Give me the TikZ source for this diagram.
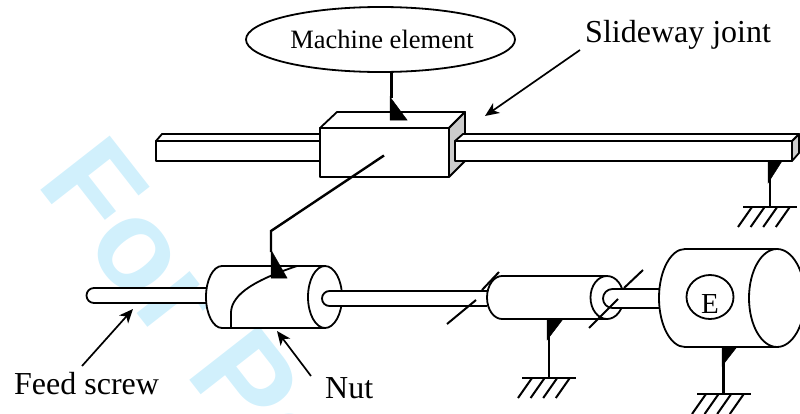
\documentclass[tikz,border=0pt]{standalone}
\usepackage{fontspec}
\setmainfont{Liberation Serif}
\newfontfamily\wmfont{Liberation Sans}
\usetikzlibrary{arrows.meta,shapes.geometric}
\tikzset{
  part/.style={draw=black,line width=1.8pt,fill=white,line join=round},
  plain/.style={draw=black,line width=1.8pt},
  thick link/.style={draw=black,line width=2.4pt},
  wedge/.style={fill=black,draw=black,line width=0.5pt},
  leader/.style={draw=black,line width=1.7pt,-{Stealth[length=14pt,width=12pt,inset=4pt]}},
  ground/.style={draw=black,line width=2.4pt},
  hatch/.style={draw=black,line width=2pt},
  label/.style={inner sep=0pt,anchor=base west,font=\fontsize{32}{32}\selectfont},
}
\newcommand{\groundsym}[3]{% x of left end, y, x of first hatch top
  \draw[ground] (#1,#2) -- ++(54,0);
  \foreach \dx in {0,12.6,25.2,37.8}{\draw[hatch] ({#3+\dx},#2) -- ++(-14,20);}
}
\begin{document}
\begin{tikzpicture}[x=1pt,y=-1pt]
\useasboundingbox (0,0) rectangle (800,413);
\begin{scope}
\clip (0,0) rectangle (800,413);
% watermark
\node[rotate=-52,anchor=base west,inner sep=0pt,text=cyan!18!white,font=\wmfont\bfseries\fontsize{128}{128}\selectfont] (wm) at (35.5,183) {For Pe};

% machine element
\node[ellipse,draw,line width=1.8pt,fill=white,minimum width=269pt,minimum height=65pt,inner sep=0pt] (me) at (380.5,39.5) {};
\node[inner sep=0pt,anchor=base,font=\fontsize{26.5}{26.5}\selectfont] (metext) at (382,48) {Machine element};

% left rail
\draw[part] (156,141) -- (162,134) -- (325,134) -- (325,141) -- cycle;
\draw[part] (156,141) rectangle (322,161);

% right rail end face
\draw[part,fill=black!20] (792,141) -- (799,134) -- (799,153) -- (792,161) -- cycle;

% block
\draw[part] (320,128) -- (337,112) -- (465,112) -- (449,128) -- cycle;
\draw[part,fill=black!20] (449,128) -- (465,112) -- (465,161) -- (449,177) -- cycle;
\draw[part] (320,128) rectangle (449,177);

% right rail
\draw[part] (455,141) -- (463,134) -- (799,134) -- (792,141) -- cycle;
\draw[part] (455,141) rectangle (792,161);

% machine element support
\coordinate (a1) at (391.5,72);
\coordinate (a2) at (391.5,98);
\draw[line width=2.4pt] (a1) -- (a2);
\fill[wedge] (390,97) -- (407,120) -- (390,120) -- cycle;

% rail support
\fill[wedge] (768,161) -- (782,161) -- (768,183) -- cycle;
\draw[line width=2.4pt] (770,161) -- (770,207);
\groundsym{743}{207}{752}

% feed screw, left part
\draw[part] (206,288) -- (94,288) arc[start angle=270,end angle=90,radius=7.5] -- (206,303);

% nut
\coordinate (nutR) at (325,297);
\draw[part] (325,266) -- (222,266) arc[start angle=270,end angle=90,x radius=16,y radius=31] -- (325,328);
\draw[part] (325,297) ellipse[x radius=17,y radius=31];
\draw[plain] (231,328) -- (231,312) .. controls (232,293) and (258,279) .. (297,266);

% screw right part
\path[fill=white] (329,291) rectangle (490,306);
\draw[plain] (487,291) -- (329.5,291) arc[start angle=270,end angle=90,radius=7.5] -- (487,306);

% link block to nut
\coordinate (b1) at (384,155.5);
\coordinate (b2) at (271,231);
\coordinate (b3) at (271,252);
\draw[thick link,line join=miter] (b1) -- (b2) -- (b3);
\fill[wedge] (271,250) -- (287,278) -- (271,278) -- cycle;

% bearing
\draw[part] (607,276) -- (502,276) arc[start angle=270,end angle=90,x radius=15,y radius=21.5] -- (607,319);
\draw[part] (607,297.5) ellipse[x radius=16.5,y radius=21.5];

% slashes around bearing
\draw[hatch] (447,324) -- (476,300);
\draw[hatch] (482,290) -- (499,272);

% motor
\draw[part] (777,249) -- (685,249) arc[start angle=270,end angle=90,x radius=26,y radius=49] -- (777,347);
\draw[part] (777,298) ellipse[x radius=28,y radius=49];
\node[ellipse,draw,line width=1.8pt,fill=white,minimum width=47pt,minimum height=44pt,inner sep=0pt] (ec) at (710,297) {};
\node[inner sep=0pt,anchor=base,font=\fontsize{29}{29}\selectfont] (etext) at (710,313) {E};

% motor shaft
\path[fill=white] (610,289) rectangle (658,308);
\draw[plain] (659,289) -- (612.5,289) arc[start angle=270,end angle=90,radius=9.5] -- (659,308);
\draw[hatch] (589,328) -- (618,299);
\draw[hatch] (624,288) -- (643,270);

% bearing support
\fill[wedge] (547,319) -- (563,319) -- (547,340) -- cycle;
\draw[line width=2.4pt] (549,319) -- (549,378);
\groundsym{522}{378}{532}

% motor support
\fill[wedge] (722,348) -- (736,348) -- (722,366) -- cycle;
\draw[line width=2.4pt] (723.5,348) -- (723.5,394);
\groundsym{697}{394}{706}

% labels
\node[label] (slide) at (585,42) {Slideway joint};
\node[label] (feed) at (14,394) {Feed screw};
\node[label] (nut) at (325,398) {Nut};
\coordinate (slideS) at (580,50);
\coordinate (slideT) at (485,116);
\coordinate (feedS) at (82,366);
\coordinate (feedT) at (133,309);
\coordinate (nutS) at (311,376);
\coordinate (nutT) at (277,331);
\draw[leader] (slideS) -- (slideT);
\draw[leader] (feedS) -- (feedT);
\draw[leader] (nutS) -- (nutT);
\end{scope}
\end{tikzpicture}
\end{document}
